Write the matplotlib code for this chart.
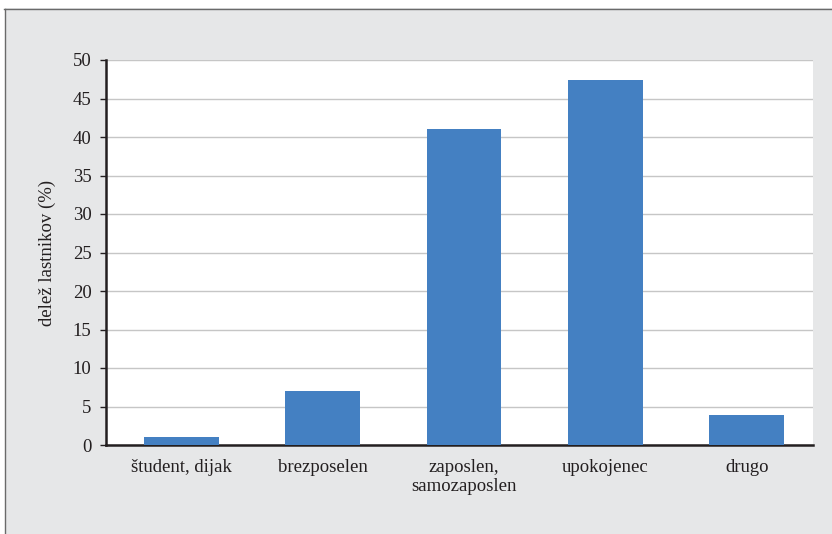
import matplotlib
matplotlib.use("Agg")
import matplotlib.pyplot as plt
from matplotlib.lines import Line2D

categories = ["študent, dijak", "brezposelen", "zaposlen,\nsamozaposlen", "upokojenec", "drugo"]
values = [1.0, 7.0, 41.0, 47.4, 3.9]
yticks = [0, 5, 10, 15, 20, 25, 30, 35, 40, 45, 50]
ylabel = "delež lastnikov (%)"

plt.rcParams['font.family'] = ['Liberation Serif', 'DejaVu Serif']

bg = "#e6e7e8"
fig = plt.figure(figsize=(8.32, 5.34), dpi=100, facecolor=bg)
ax = fig.add_axes([106 / 832, 1 - 445 / 534, (813 - 106) / 832, (445 - 60) / 534])
ax.set_facecolor("white")

x = list(range(len(categories)))
ax.bar(x, values, width=0.53, color="#4480c2", zorder=3)

ax.set_xlim(-0.532, len(categories) - 0.532)
ax.set_ylim(0, 50)
ax.set_yticks(yticks)
ax.set_yticklabels([str(t) for t in yticks], fontsize=13.5, color="#231f20")
ax.set_xticks(x)
ax.set_xticklabels(categories, fontsize=13.5, color="#231f20", linespacing=1.15)
ax.tick_params(axis="x", length=0, pad=10)
ax.tick_params(axis="y", length=4.5, width=1.0, pad=6, color="#231f20")

ax.grid(axis="y", color="#c6c6c6", linewidth=1.0, zorder=0)
ax.set_axisbelow(True)
for s in ["top", "right"]:
    ax.spines[s].set_visible(False)
for s in ["left", "bottom"]:
    ax.spines[s].set_color("#231f20")
    ax.spines[s].set_linewidth(1.8)

ax.set_ylabel(ylabel, fontsize=13.5, color="#231f20", labelpad=12)

# outer frame lines (top and left)
fig.add_artist(Line2D([4 / 832, 1.0], [1 - 8.5 / 534, 1 - 8.5 / 534], transform=fig.transFigure,
                      color="#6a6a6a", linewidth=1.0))
fig.add_artist(Line2D([5 / 832, 5 / 832], [0, 1 - 8.5 / 534], transform=fig.transFigure,
                      color="#6a6a6a", linewidth=1.0))
# white area outside the frame
fig.patches.append(matplotlib.patches.Rectangle((0, 1 - 8 / 534), 1, 8 / 534, transform=fig.transFigure,
                                                facecolor="white", edgecolor="none", zorder=-1))
fig.patches.append(matplotlib.patches.Rectangle((0, 0), 5 / 832, 1, transform=fig.transFigure,
                                                facecolor="white", edgecolor="none", zorder=-1))

fig.savefig("out.png", dpi=100, facecolor=bg)
